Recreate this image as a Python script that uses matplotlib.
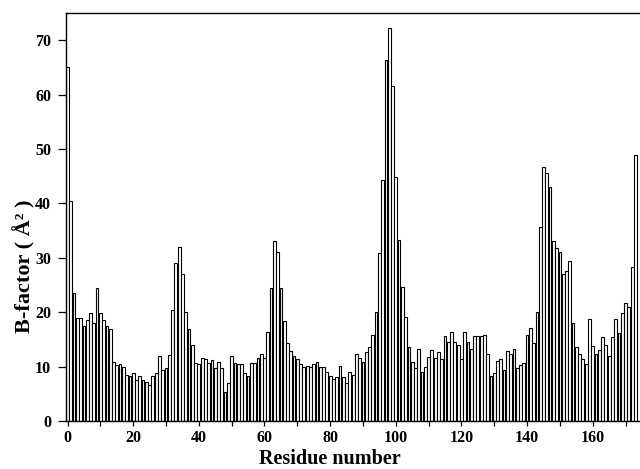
import matplotlib

matplotlib.use("Agg")
import matplotlib.pyplot as plt
from matplotlib.ticker import MultipleLocator

# B-factor per residue (residue 0..173)
residues = list(range(174))
bfactor = [
    65.0, 40.5, 23.5, 19.0, 19.0, 17.5, 18.5, 19.8, 18.0, 24.5,
    19.8, 18.5, 17.5, 17.0, 10.8, 10.3, 10.4, 10.0, 8.5, 8.3,
    8.8, 7.5, 8.3, 7.6, 7.2, 6.6, 8.3, 8.8, 12.0, 9.3,
    9.7, 12.2, 20.4, 29.0, 32.0, 27.0, 20.0, 17.0, 14.0, 10.6,
    10.4, 11.6, 11.4, 10.7, 11.3, 9.8, 10.8, 9.7, 5.4, 6.9,
    11.9, 10.6, 10.5, 10.4, 8.8, 8.2, 10.6, 10.6, 11.6, 12.4,
    11.6, 16.4, 24.4, 33.0, 31.0, 24.4, 18.3, 14.3, 12.9, 12.0,
    11.4, 10.4, 9.9, 10.1, 9.9, 10.5, 10.9, 9.9, 9.9, 9.0,
    8.2, 7.8, 8.0, 10.2, 8.1, 7.0, 9.0, 8.4, 12.4, 11.6,
    10.8, 12.7, 13.6, 15.8, 20.1, 30.8, 44.3, 66.4, 72.2, 61.5,
    44.9, 33.3, 24.7, 19.2, 13.6, 10.9, 9.7, 13.3, 9.1, 10.0,
    11.8, 13.0, 11.6, 12.7, 11.4, 15.6, 14.6, 16.4, 14.6, 14.0,
    11.4, 16.4, 14.6, 13.3, 15.6, 15.6, 15.6, 15.8, 12.4, 8.3,
    8.9, 11.0, 11.4, 9.4, 12.9, 12.3, 13.2, 9.8, 10.3, 10.7,
    15.8, 17.1, 14.3, 20.0, 35.7, 46.7, 45.5, 43.0, 33.0, 31.8,
    31.0, 27.0, 27.5, 29.5, 18.0, 13.6, 12.3, 11.4, 10.5, 18.7,
    13.7, 12.3, 13.0, 15.4, 14.0, 12.0, 15.4, 18.7, 16.2, 19.9,
    21.7, 21.0, 28.3, 48.9,
]

plt.rcParams["font.family"] = ["Liberation Serif", "DejaVu Serif"]
plt.rcParams["font.weight"] = "bold"

fig = plt.figure(figsize=(6.4, 4.69), dpi=100)
ax = fig.add_axes([0.1027, 0.1023, 0.8973, 0.870])

ax.bar(residues, bfactor, width=0.85, color="white", edgecolor="black",
       linewidth=0.8)

ax.set_xlim(-0.55, 174.4)
ax.set_ylim(0, 75)
ax.xaxis.set_major_locator(MultipleLocator(20))
ax.xaxis.set_minor_locator(MultipleLocator(10))
ax.yaxis.set_major_locator(MultipleLocator(10))
ax.tick_params(axis="both", which="both", direction="out", width=0.9,
               labelsize=11.5)
ax.tick_params(axis="y", length=5.5, pad=5, right=False)
ax.tick_params(axis="x", which="both", length=3.5, pad=3, top=False)
for lab in ax.get_xticklabels() + ax.get_yticklabels():
    lab.set_fontweight("bold")

ax.spines["right"].set_visible(False)
for side in ("left", "bottom", "top"):
    ax.spines[side].set_linewidth(1.0)

ax.set_xlabel("Residue number", fontsize=14.5, fontweight="bold")
ax.set_ylabel("B-factor ( Å² )", fontsize=16, fontweight="bold")
ax.xaxis.set_label_coords(0.46, -0.093)
ax.xaxis.label.set_va("center")
ax.yaxis.set_label_coords(-0.073, 0.379)
ax.yaxis.label.set_va("center")

fig.savefig("out.png", dpi=100)
plt.close(fig)
